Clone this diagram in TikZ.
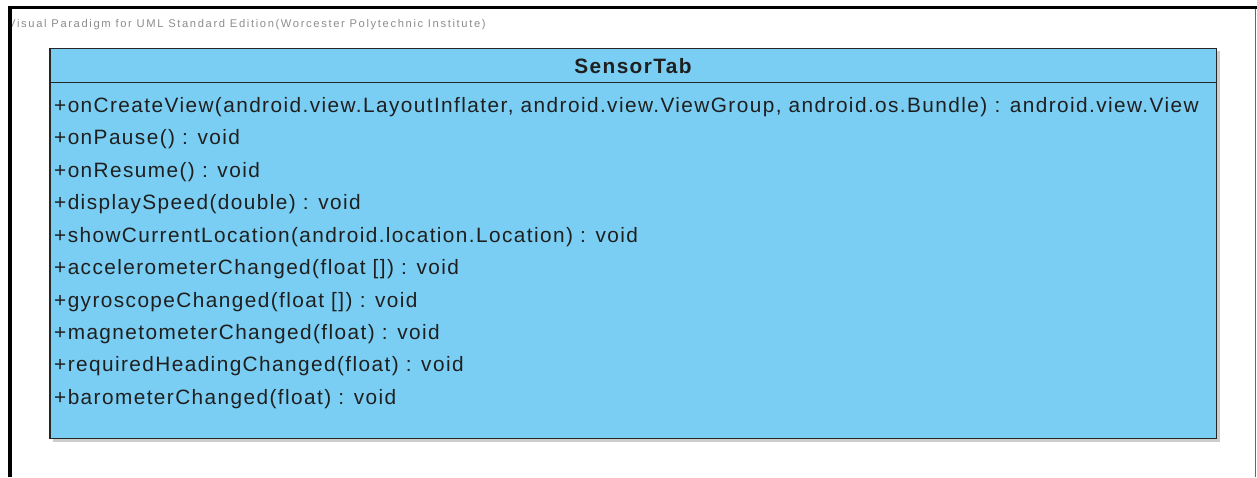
\documentclass[tikz,border=0pt]{standalone}
\usepackage{fontspec}
\setmainfont{Liberation Sans}
\newfontfamily\vpfont[LetterSpace=6.8]{Liberation Sans}
\newfontfamily\wmfont[LetterSpace=14.6]{Liberation Sans}
\definecolor{umlblue}{RGB}{122,206,243}
\definecolor{wmgray}{RGB}{140,140,140}
\definecolor{shadowgray}{RGB}{205,205,205}
\begin{document}
\begin{tikzpicture}[x=1pt,y=-1pt,
  op/.style={anchor=base west,inner sep=0pt,font=\vpfont\fontsize{20.8}{24}\selectfont,text=black!88},
  title/.style={anchor=base,inner sep=0pt,font=\vpfont\fontsize{20.8}{24}\selectfont\bfseries,text=black!88}]
\useasboundingbox (0,0) rectangle (1257,477);
% frame
\begin{scope}
\clip (11,0) rectangle (1257,477);
\node[anchor=base west,inner sep=0pt,font=\wmfont\fontsize{11.2}{13}\selectfont,text=wmgray] (wm) at (8,27) {Visual Paradigm for UML Standard Edition(Worcester Polytechnic Institute)};
\end{scope}
\draw[line width=3.5pt,black] (10,477) -- (10,7.5) -- (1257,7.5);
\draw[line width=1pt,black!60] (1255.5,9) -- (1255.5,477);
% class box
\fill[shadowgray] (53,51) rectangle (1219.5,441.5);
\draw[line width=1.6pt,fill=umlblue,draw=black!85] (50,48.5) rectangle (1216.5,438.5);
\coordinate (cl) at (50,82.5);
\coordinate (cr) at (1216.5,82.5);
\draw[line width=1.6pt,draw=black!85] (cl) -- (cr);
\node[title] (name) at (633,73) {SensorTab};
\node[op] (o1) at (54,112) {+onCreateView(android.view.LayoutInflater, android.view.ViewGroup, android.os.Bundle) : android.view.View};
\node[op] (o2) at (54,144.5) {+onPause() : void};
\node[op] (o3) at (54,177) {+onResume() : void};
\node[op] (o4) at (54,209) {+displaySpeed(double) : void};
\node[op] (o5) at (54,242) {+showCurrentLocation(android.location.Location) : void};
\node[op] (o6) at (54,274) {+accelerometerChanged(float []) : void};
\node[op] (o7) at (54,307) {+gyroscopeChanged(float []) : void};
\node[op] (o8) at (54,339) {+magnetometerChanged(float) : void};
\node[op] (o9) at (54,371) {+requiredHeadingChanged(float) : void};
\node[op] (o10) at (54,404) {+barometerChanged(float) : void};
\end{tikzpicture}
\end{document}
